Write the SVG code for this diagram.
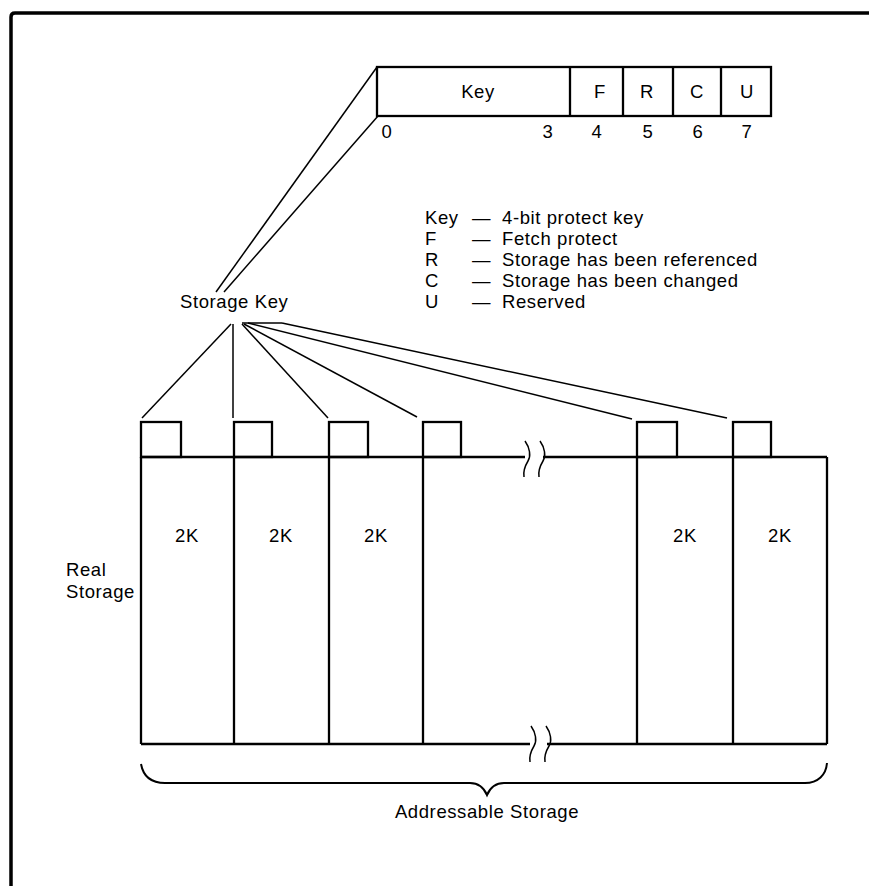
<svg xmlns="http://www.w3.org/2000/svg" width="869" height="886" viewBox="0 0 869 886">
<style>
text{font-family:"Liberation Sans",Arial,sans-serif;font-size:18.5px;letter-spacing:0.6px;fill:#000}
.c{text-anchor:middle}
.thin{fill:none;stroke:#000;stroke-width:1.5}
.thick{fill:none;stroke:#000;stroke-width:2.3}
.frame{fill:none;stroke:#000;stroke-width:3.5;stroke-linejoin:round}
</style>
<rect x="0" y="0" width="869" height="886" fill="#fff"/>
<path class="frame" d="M11,886 V17 Q11,13 15,13 H869"/>

<g id="keybyte">
<rect class="thick" x="377" y="67" width="394" height="49"/>
<line class="thick" x1="570" y1="67" x2="570" y2="116"/>
<line class="thick" x1="623" y1="67" x2="623" y2="116"/>
<line class="thick" x1="673" y1="67" x2="673" y2="116"/>
<line class="thick" x1="721" y1="67" x2="721" y2="116"/>
<text class="c" x="478" y="98">Key</text>
<text class="c" x="600" y="98">F</text>
<text class="c" x="647" y="98">R</text>
<text class="c" x="697" y="98">C</text>
<text class="c" x="747" y="98">U</text>
<text class="c" x="387" y="138">0</text>
<text class="c" x="548" y="138">3</text>
<text class="c" x="597" y="138">4</text>
<text class="c" x="648" y="138">5</text>
<text class="c" x="698" y="138">6</text>
<text class="c" x="747" y="138">7</text>
</g>

<g id="legend">
<text x="425" y="224">Key</text><text x="472" y="224">—</text><text x="502" y="224">4-bit protect key</text>
<text x="425" y="245">F</text><text x="472" y="245">—</text><text x="502" y="245">Fetch protect</text>
<text x="425" y="266">R</text><text x="472" y="266">—</text><text x="502" y="266">Storage has been referenced</text>
<text x="425" y="287">C</text><text x="472" y="287">—</text><text x="502" y="287">Storage has been changed</text>
<text x="425" y="308">U</text><text x="472" y="308">—</text><text x="502" y="308">Reserved</text>
</g>

<g id="storagekey">
<text x="180" y="308">Storage Key</text>
</g>

<g id="connectors">
<line class="thin" x1="377" y1="67" x2="216" y2="292"/>
<line class="thin" x1="378" y1="116" x2="224" y2="292"/>
<line class="thin" x1="231" y1="324" x2="142" y2="418"/>
<line class="thin" x1="233" y1="324" x2="233" y2="418"/>
<line class="thin" x1="242" y1="324" x2="328" y2="418"/>
<line class="thin" x1="244" y1="324" x2="417" y2="417"/>
<line class="thin" x1="242" y1="323" x2="282" y2="323"/>
<line class="thin" x1="248" y1="323" x2="632" y2="419"/>
<line class="thin" x1="282" y1="323" x2="727" y2="418"/>
</g>

<g id="keyboxes">
<rect class="thick" x="141" y="422" width="40" height="35"/>
<rect class="thick" x="234" y="422" width="38" height="35"/>
<rect class="thick" x="329" y="422" width="39" height="35"/>
<rect class="thick" x="423" y="422" width="38" height="35"/>
<rect class="thick" x="637" y="422" width="40" height="35"/>
<rect class="thick" x="733" y="422" width="38" height="35"/>
</g>

<g id="realstorage">
<path class="thick" d="M141,457 H525 M543,457 H827"/>
<path class="thick" d="M141,744 H530 M547,744 H827"/>
<line class="thick" x1="141" y1="457" x2="141" y2="744"/>
<line class="thick" x1="234" y1="457" x2="234" y2="744"/>
<line class="thick" x1="329" y1="457" x2="329" y2="744"/>
<line class="thick" x1="423" y1="457" x2="423" y2="744"/>
<line class="thick" x1="637" y1="457" x2="637" y2="744"/>
<line class="thick" x1="733" y1="457" x2="733" y2="744"/>
<line class="thick" x1="827" y1="457" x2="827" y2="744"/>
<path class="thin" d="M525,441 C530,448 531,456 528,461 C525,466 523,471 524,477"/>
<path class="thin" d="M540,441 C545,448 546,456 543,461 C540,466 538,471 539,477"/>
<path class="thin" d="M531,726 C536,733 537,741 534,746 C531,751 529,756 530,762"/>
<path class="thin" d="M546,726 C551,733 552,741 549,746 C546,751 544,756 545,762"/>
<text class="c" x="187" y="542">2K</text>
<text class="c" x="281" y="542">2K</text>
<text class="c" x="376" y="542">2K</text>
<text class="c" x="685" y="542">2K</text>
<text class="c" x="780" y="542">2K</text>
<text x="66" y="576">Real</text>
<text x="66" y="598">Storage</text>
</g>

<g id="addressable">
<path class="thin" d="M141,764 C143,775 150,783 165,783 H470 C478,783 484,788 487,795 C490,788 496,783 504,783 H805 C818,783 826,775 827,763" style="stroke-width:2"/>
<text class="c" x="487" y="818">Addressable Storage</text>
</g>
</svg>
